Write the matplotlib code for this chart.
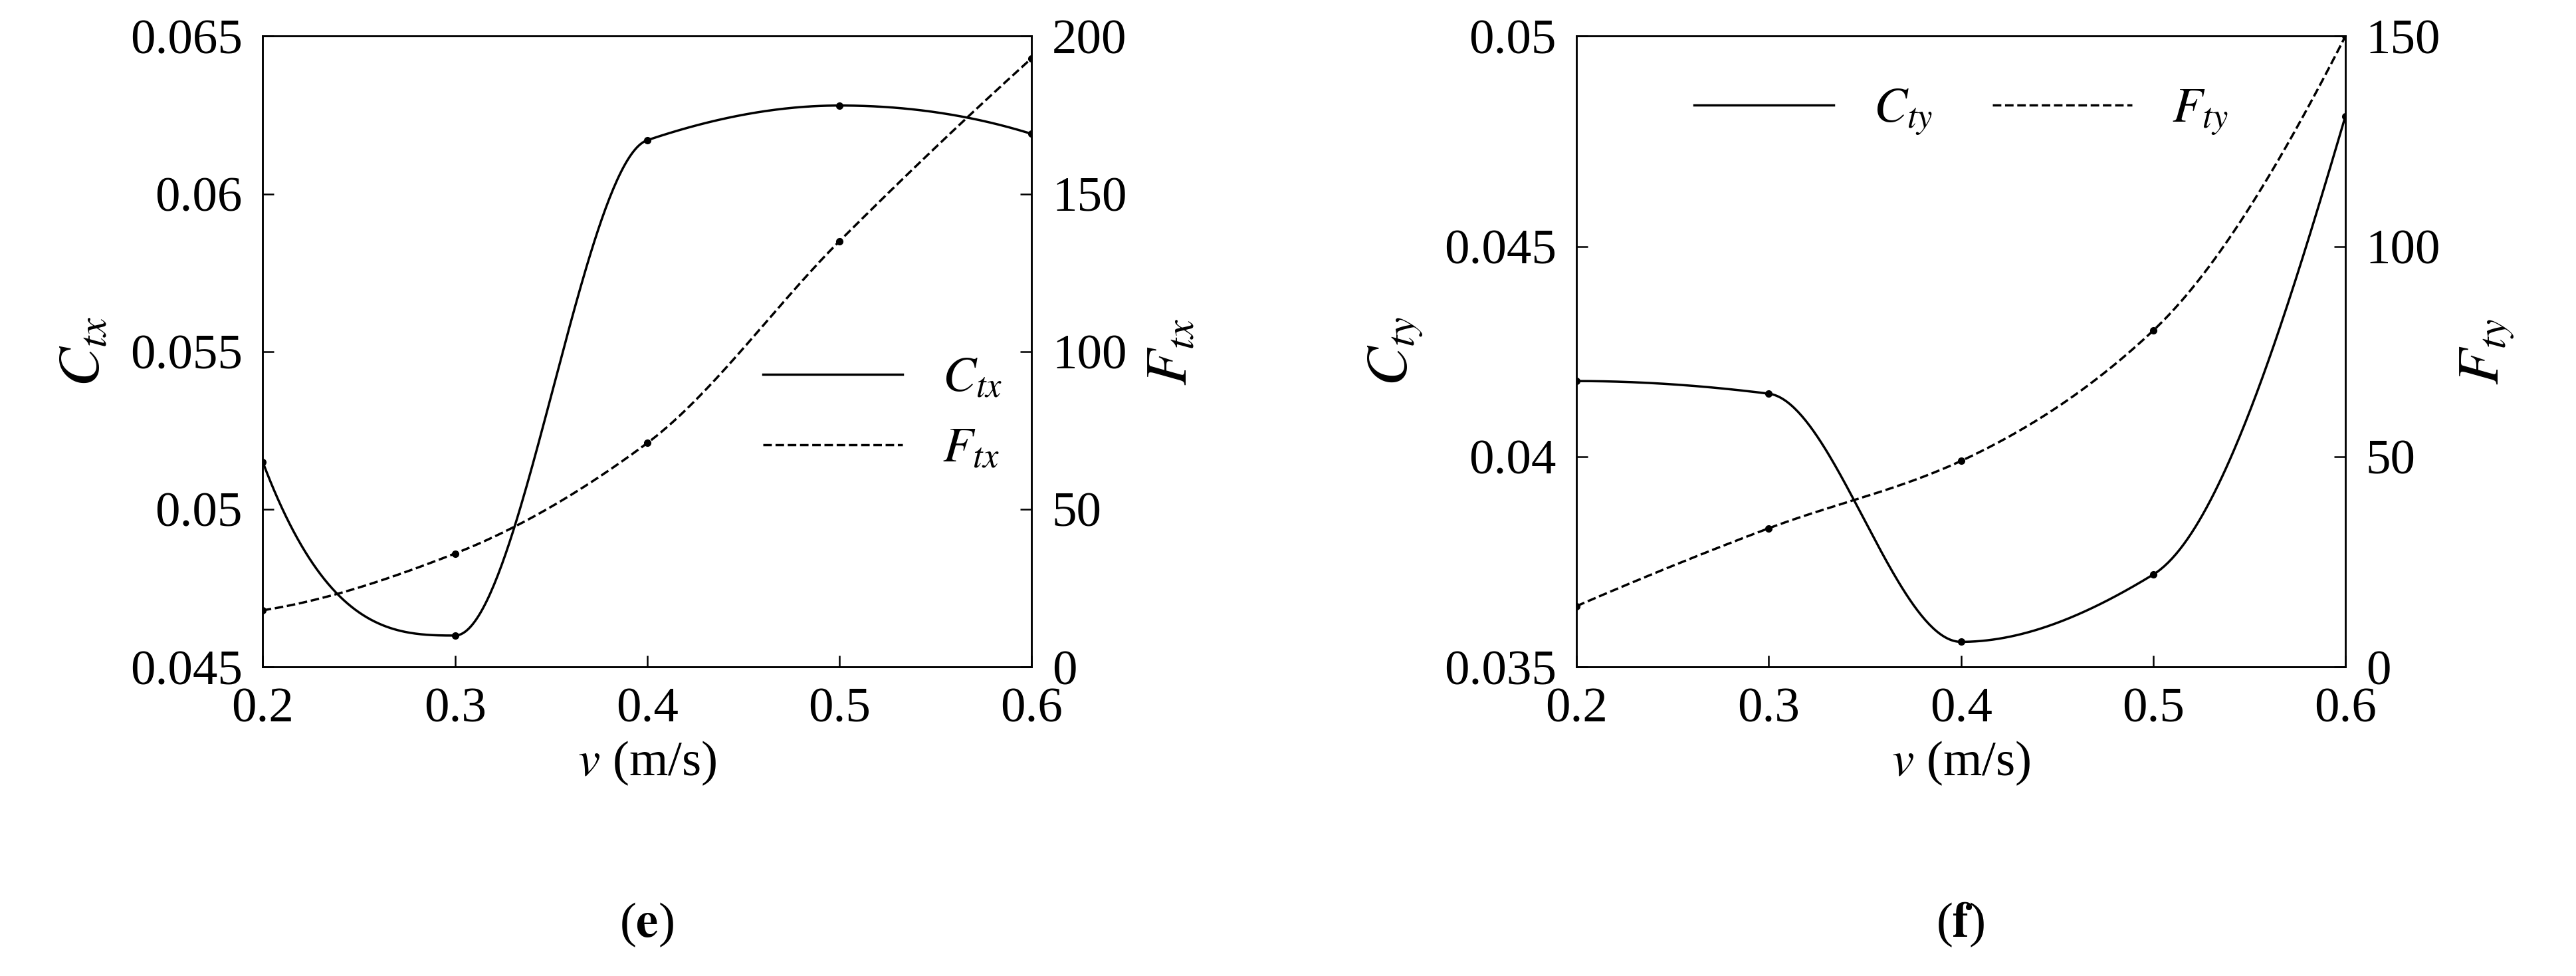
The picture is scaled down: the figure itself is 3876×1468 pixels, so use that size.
import numpy as np
import matplotlib
matplotlib.use("Agg")
import matplotlib.pyplot as plt

plt.rcParams['font.family'] = ['Liberation Serif', 'DejaVu Serif']
plt.rcParams['mathtext.fontset'] = 'stix'
plt.rcParams['font.size'] = 54

v = [0.2, 0.3, 0.4, 0.5, 0.6]
ctx = [0.0515, 0.0460, 0.0617, 0.0628, 0.0619]
ftx = [18, 36, 71, 135, 193]
cty = [0.0418, 0.0415, 0.0356, 0.0372, 0.0481]
fty = [14.5, 33, 49, 80, 150]

def pchip(x, y, xs):
    x = np.asarray(x, float); y = np.asarray(y, float)
    h = np.diff(x); d = np.diff(y) / h
    n = len(x); m = np.zeros(n)
    for k in range(1, n - 1):
        if d[k-1] * d[k] > 0:
            w1 = 2*h[k] + h[k-1]; w2 = h[k] + 2*h[k-1]
            m[k] = (w1 + w2) / (w1/d[k-1] + w2/d[k])
    def end(h0, h1, d0, d1):
        mm = ((2*h0 + h1)*d0 - h0*d1) / (h0 + h1)
        if np.sign(mm) != np.sign(d0): mm = 0
        elif np.sign(d0) != np.sign(d1) and abs(mm) > abs(3*d0): mm = 3*d0
        return mm
    m[0] = end(h[0], h[1], d[0], d[1]); m[-1] = end(h[-1], h[-2], d[-1], d[-2])
    out = np.empty_like(xs)
    for i, xv in enumerate(xs):
        k = min(np.searchsorted(x, xv, side='right') - 1, n - 2)
        t = (xv - x[k]) / h[k]
        h00 = 2*t**3 - 3*t**2 + 1; h10 = t**3 - 2*t**2 + t
        h01 = -2*t**3 + 3*t**2; h11 = t**3 - t**2
        out[i] = h00*y[k] + h10*h[k]*m[k] + h01*y[k+1] + h11*h[k]*m[k+1]
    return out

xs = np.linspace(0.2, 0.6, 400)
fig = plt.figure(figsize=(38.76, 14.68), dpi=100)

def panel(left, c, f, clim, cticks, flim, fticks, cname, fname, letter, legkw):
    ax = fig.add_axes([left, 0.3165, 0.2985, 0.6465])
    l1, = ax.plot(xs, pchip(v, c, xs), 'k-', lw=2.5, label=f'$C_{{{cname}}}$')
    ax.plot(v, c, 'k.', ms=14)
    ax.set_xlim(0.2, 0.6); ax.set_ylim(*clim)
    ax.set_xticks(v); ax.set_xticklabels([str(x) for x in v])
    ax.set_yticks(cticks); ax.set_yticklabels([f'{t:g}' for t in cticks])
    ax.set_xlabel(r'$v$ (m/s)', labelpad=8)
    ax.set_ylabel(f'$C_{{{cname}}}$', fontsize=64, labelpad=20)
    ax2 = ax.twinx()
    l2, = ax2.plot(xs, pchip(v, f, xs), 'k--', lw=2.5, label=f'$F_{{{fname}}}$')
    ax2.plot(v, f, 'k.', ms=14)
    ax2.set_ylim(*flim); ax2.set_yticks(fticks)
    ax2.set_ylabel(f'$F_{{{fname}}}$', fontsize=64, labelpad=20)
    for a in (ax, ax2):
        a.tick_params(direction='in', length=12, width=1.8, pad=22)
        for s in a.spines.values(): s.set_linewidth(1.8)
    ax.legend(handles=[l1, l2], frameon=False, handlelength=2.8, **legkw)
    fig.text(left + 0.149, 0.04, f'($\\mathbf{{{letter}}}$)', ha='center', fontsize=54)

panel(0.102, ctx, ftx, (0.045, 0.065), [0.045, 0.05, 0.055, 0.06, 0.065],
      (0, 200), [0, 50, 100, 150, 200], 'tx', 'tx', 'e',
      dict(loc='center right', bbox_to_anchor=(1.02, 0.40)))
panel(0.612, cty, fty, (0.035, 0.05), [0.035, 0.04, 0.045, 0.05],
      (0, 150), [0, 50, 100, 150], 'ty', 'ty', 'f',
      dict(loc='upper center', ncol=2, bbox_to_anchor=(0.5, 0.99), columnspacing=1.2))

fig.savefig('out.png', dpi=100)
